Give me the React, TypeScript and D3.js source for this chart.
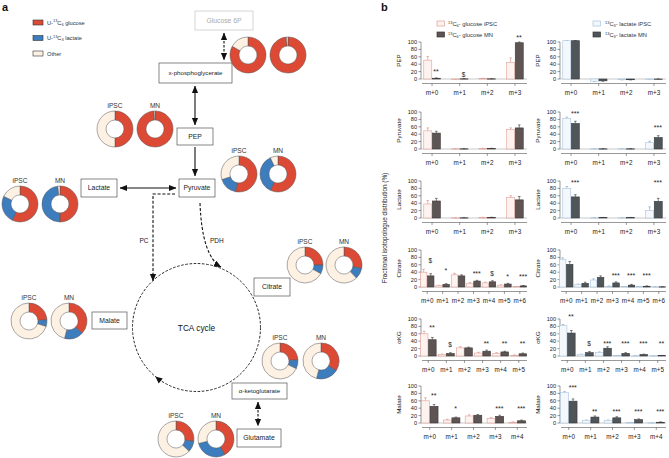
import React from 'react';
import * as d3 from 'd3';

const FONT = 'Liberation Sans, Arial, Helvetica, sans-serif';

// ---------------- Panel a data ----------------
const tracerColors = ['#dc4a36', '#3d7dbd', '#fdf1e4'];
const tracerNames = ['glucose', 'lactate', 'Other'];
const nodeNames = ['x-phosphoglycerate', 'PEP', 'Pyruvate', 'Lactate', 'Citrate', 'Malate', 'α-ketoglutarate', 'Glutamate'];
// fractions [glucose, lactate, other]
const donutIPSC = [
  [0.83, 0, 0.17],
  [0.5, 0, 0.5],
  [0.53, 0.17, 0.30],
  [0.57, 0.25, 0.18],
  [0.25, 0.08, 0.67],
  [0.24, 0.06, 0.70],
  [0.24, 0.08, 0.68],
  [0.27, 0.10, 0.63],
];
const donutMN = [
  [0.985, 0, 0.015],
  [0.99, 0, 0.01],
  [0.57, 0.36, 0.07],
  [0.5, 0.48, 0.02],
  [0.28, 0.10, 0.62],
  [0.37, 0.17, 0.46],
  [0.34, 0.20, 0.46],
  [0.42, 0.29, 0.29],
];

// ---------------- Panel b data ----------------
const metabolites = ['PEP', 'Pyruvate', 'Lactate', 'Citrate', 'αKG', 'Malate'];
const iso4 = ['m+0', 'm+1', 'm+2', 'm+3'];
const iso5 = ['m+0', 'm+1', 'm+2', 'm+3', 'm+4'];
const iso6 = ['m+0', 'm+1', 'm+2', 'm+3', 'm+4', 'm+5'];
const iso7 = ['m+0', 'm+1', 'm+2', 'm+3', 'm+4', 'm+5', 'm+6'];
const isotopologues = [iso4, iso4, iso4, iso7, iso6, iso5];

const glcIPSC = [[51, -0.5, 1, 45], [49, 0.5, 1.5, 53], [38, 0.5, 1.5, 55], [40, 4, 33, 10, 11, 5, 1], [60, 4, 22, 8, 7, 2], [60, 8, 19, 12, 2]];
const glcIPSCsd = [[10, 1, 1, 12], [8, 0.5, 0.5, 4], [9, 0.5, 0.5, 5], [8, 1, 4, 2, 2, 1, 0.5], [7, 1, 3, 2, 2, 1], [8, 2, 3, 3, 1]];
const glcMN = [[2, 0.5, 0.5, 98], [43, 0.5, 1.5, 57], [46, 0.5, 1.5, 49], [30, 7, 30, 16, 14, 8, 3], [44, 7, 22, 13, 11, 6], [45, 14, 21, 18, 6]];
const glcMNsd = [[1, 0.5, 0.5, 2], [5, 0.5, 0.5, 8], [7, 0.5, 0.5, 9], [6, 2, 3, 2, 3, 2, 1], [6, 2, 2, 3, 2, 2], [5, 2, 2, 3, 2]];
const glcSig = [['**', '$', '', '**'], ['', '', '', ''], ['', '', '', ''], ['$', '*', '', '***', '$', '*', '***'], ['**', '$', '', '**', '**', '**'], ['**', '*', '', '***', '***']];
const glcSigAt = [[22, 14, 0, 114], [0, 0, 0, 0], [0, 0, 0, 0], [72, 45, 0, 38, 38, 30, 30], [78, 32, 0, 34, 34, 34], [76, 40, 0, 40, 40]];

const lacIPSC = [[103.5, -6, -2, -1], [83, 0.5, 0.5, 17], [80, 0.5, 0.5, 20], [75, 7, 19, 2, 1, 1, 0.5], [82, 4, 9, 1, 0.5, 0.5], [82, 7, 7, 1, 0.5]];
const lacIPSCsd = [[0.5, 1, 0.5, 0.5], [3, 0.5, 0.5, 4], [5, 0.5, 0.5, 10], [4, 1, 3, 1, 0.5, 0.5, 0.3], [3, 1, 2, 0.5, 0.3, 0.3], [3, 1, 1, 0.5, 0.3]];
const lacMN = [[103.5, -5, -2, 0], [69, 0.5, 0.5, 31], [57, 1, 1, 45], [61, 10, 26, 11, 5, 2, 0.5], [62, 9, 21, 7, 4, 1], [59, 16, 14, 9, 2]];
const lacMNsd = [[0.5, 1, 0.5, 0.3], [6, 0.5, 0.5, 5], [6, 0.5, 0.5, 8], [8, 3, 4, 3, 2, 1, 0.3], [7, 3, 4, 2, 1, 0.5], [6, 3, 3, 2, 1]];
const lacSig = [['', '', '', ''], ['***', '', '', '***'], ['***', '', '', '***'], ['', '', '', '***', '***', '***', ''], ['**', '$', '***', '***', '***', '**'], ['***', '**', '***', '***', '***']];
const lacSigAt = [[0, 0, 0, 0], [98, 0, 0, 60], [97, 0, 0, 97], [0, 0, 0, 33, 33, 33, 0], [108, 36, 35, 35, 35, 35], [97, 32, 32, 32, 32]];

const yTicks = [0, 20, 40, 60, 80, 100];

// ---------------- helpers ----------------
function Donut({ cx, cy, fr, label }: { cx: number; cy: number; fr: number[]; label?: string }) {
  const pie = d3.pie<number>().sort(null).value((d) => d)(fr);
  const arc = d3.arc<d3.PieArcDatum<number>>().innerRadius(9).outerRadius(18);
  return (
    <g transform={`translate(${cx},${cy})`}>
      {pie.map((p, i) =>
        p.value > 0 ? <path key={i} d={arc(p) || ''} fill={tracerColors[i]} stroke="#555" strokeWidth={0.5} /> : null
      )}
      {label ? (
        <text x={0} y={-21} textAnchor="middle" fontSize={6.6} fill="#333">
          {label}
        </text>
      ) : null}
    </g>
  );
}

function Box({ x, y, w, h, label, gray }: { x: number; y: number; w: number; h: number; label: string; gray?: boolean }) {
  return (
    <g>
      <rect x={x} y={y} width={w} height={h} fill="#fff" stroke={gray ? '#c4c4c4' : '#555'} strokeWidth={0.7} />
      <text x={x + w / 2} y={y + h / 2 + 2.4} textAnchor="middle" fontSize={label.length > 12 ? 6.2 : 6.8} fill={gray ? '#aaa' : '#222'}>
        {label}
      </text>
    </g>
  );
}

function Head({ x, y, ang }: { x: number; y: number; ang: number }) {
  return <path d="M0,0 L-7,-3.2 L-7,3.2 Z" fill="#111" transform={`translate(${x},${y}) rotate(${ang})`} />;
}

type Style = { aFill: string; aStroke: string; aErr: string; bFill: string; bStroke: string; bErr: string };

function BarChart(props: {
  x0: number; top: number; cats: string[]; a: number[]; asd: number[]; b: number[]; bsd: number[];
  sig: string[]; sigAt: number[]; name: string; st: Style;
}) {
  const { x0, top, cats, a, asd, b, bsd, sig, sigAt, name, st } = props;
  const x = d3.scalePoint<string>().domain(cats).range([x0, x0 + 105]).padding(0.4);
  const y = d3.scaleLinear().domain([0, 100]).range([top + 37, top]);
  const bw = Math.min(8, x.step() * 0.42);
  const y0 = y(0);
  const axisY = top + 41.5;
  const bar = (cx: number, v: number, sd: number, fill: string, stroke: string, err: string, k: string) => {
    const yv = y(v);
    const ye = y(v + (v >= 0 ? sd : -sd));
    return (
      <g key={k}>
        <line x1={cx + bw / 2} x2={cx + bw / 2} y1={yv} y2={ye} stroke={err} strokeWidth={0.6} />
        <line x1={cx + bw / 2 - 1.3} x2={cx + bw / 2 + 1.3} y1={ye} y2={ye} stroke={err} strokeWidth={0.6} />
        <rect x={cx} y={Math.min(yv, y0)} width={bw} height={Math.max(0.3, Math.abs(y0 - yv))} fill={fill} stroke={stroke} strokeWidth={0.6} />
      </g>
    );
  };
  return (
    <g fill="#222">
      {/* y axis */}
      <line x1={x0} x2={x0} y1={y(0)} y2={y(100)} stroke="#333" strokeWidth={0.5} />
      {yTicks.map((t) => (
        <g key={t}>
          <line x1={x0 - 2.5} x2={x0} y1={y(t)} y2={y(t)} stroke="#333" strokeWidth={0.5} />
          <text x={x0 - 4} y={y(t) + 2} textAnchor="end" fontSize={5.6}>
            {t}
          </text>
        </g>
      ))}
      <text transform={`translate(${x0 - 20.5},${y(50)}) rotate(-90)`} textAnchor="middle" fontSize={6.2}>
        {name}
      </text>
      {/* zero line */}
      <line x1={x0} x2={x0 + 106} y1={y0} y2={y0} stroke="#777" strokeWidth={0.4} />
      {cats.map((c, i) => {
        const cx = x(c) as number;
        return (
          <g key={c}>
            {bar(cx - bw - 0.3, a[i], asd[i], st.aFill, st.aStroke, st.aErr, 'a')}
            {bar(cx + 0.3, b[i], bsd[i], st.bFill, st.bStroke, st.bErr, 'b')}
            {sig[i] ? (
              <text x={cx + bw / 2} y={y(sigAt[i]) + 3} textAnchor="middle" fontSize={sig[i] === '$' ? 6.5 : 7}>
                {sig[i]}
              </text>
            ) : null}
          </g>
        );
      })}
      {/* x axis */}
      <line x1={x0 + 1} x2={x0 + 106} y1={axisY} y2={axisY} stroke="#333" strokeWidth={0.5} />
      {cats.map((c) => (
        <g key={'t' + c}>
          <line x1={x(c) as number} x2={x(c) as number} y1={axisY} y2={axisY + 2.5} stroke="#333" strokeWidth={0.5} />
          <text x={x(c) as number} y={top + 52.5} textAnchor="middle" fontSize={6.3}>
            {c}
          </text>
        </g>
      ))}
    </g>
  );
}

function Iso({ mass, el, sub, rest, x, y, fs }: { mass: string; el: string; sub: string; rest: string; x: number; y: number; fs: number }) {
  return (
    <text x={x} y={y} fontSize={fs} fill="#333">
      {mass.startsWith('U') ? 'U-' : ''}
      <tspan dy={-2.2} fontSize={fs * 0.68}>{'13'}</tspan>
      <tspan dy={2.2}>{el}</tspan>
      <tspan dy={1.2} fontSize={fs * 0.68}>{sub}</tspan>
      <tspan dy={-1.2}>{rest}</tspan>
    </text>
  );
}

// donut layout positions for panel a
const donutPos = [
  [248, 55, 288, 55, 0],
  [115, 129, 155, 129, 1],
  [239, 174, 278, 174, 1],
  [20, 204, 60, 204, 1],
  [305, 265, 344, 265, 1],
  [29, 321, 69, 321, 1],
  [280, 361, 321, 361, 1],
  [176, 439, 216, 439, 1],
];

export default function App() {
  const glcStyle: Style = { aFill: '#fdf2f0', aStroke: '#e0a198', aErr: '#d9877e', bFill: '#5d5453', bStroke: '#3d3737', bErr: '#333' };
  const lacStyle: Style = { aFill: '#f4f8fc', aStroke: '#a8c4dd', aErr: '#7f9fbf', bFill: '#505559', bStroke: '#35393c', bErr: '#333' };
  const colX = [421, 560];
  const rowTop = [42, 112, 181, 250, 319, 386];
  const cx0 = 196.5, cy0 = 327.5, R = 64;
  const headAt = (deg: number) => {
    const t = (deg * Math.PI) / 180;
    return { x: cx0 + R * Math.cos(t), y: cy0 + R * Math.sin(t), ang: deg + 90 };
  };
  const h3 = headAt(130);
  return (
    <svg width={669} height={458} style={{ position: 'absolute', left: 0, top: 0, background: '#fff' }} fontFamily={FONT}>
      <defs>
        <marker id="ah" viewBox="0 0 10 10" refX="9.5" refY="5" markerWidth="7.5" markerHeight="7.5" markerUnits="userSpaceOnUse" orient="auto-start-reverse">
          <path d="M0,0.8 L10,5 L0,9.2 z" fill="#111" />
        </marker>
      </defs>
      <rect x={0} y={0} width={669} height={458} fill="#fff" />

      {/* ---------- Panel a ---------- */}
      <text x={2} y={11} fontSize={11} fontWeight="bold" fill="#111">a</text>
      {tracerColors.map((c, i) => (
        <rect key={i} x={33} y={20 + i * 15.5} width={10} height={5} fill={c} stroke="#333" strokeWidth={0.6} />
      ))}
      <Iso mass="U" el="C" sub="6" rest={' ' + tracerNames[0]} x={47} y={24.5} fs={5.7} />
      <Iso mass="U" el="C" sub="3" rest={' ' + tracerNames[1]} x={47} y={40} fs={5.7} />
      <text x={47} y={55.5} fontSize={5.7} fill="#333">{tracerNames[2]}</text>

      {/* pathway */}
      <Box x={195} y={11} w={58} h={19} label="Glucose 6P" gray />
      <Box x={159} y={63} w={73} h={20} label={nodeNames[0]} />
      <Box x={177} y={128} w={36} h={17} label={nodeNames[1]} />
      <Box x={179} y={179} w={36} h={18} label={nodeNames[2]} />
      <Box x={81} y={179} w={36} h={18} label={nodeNames[3]} />
      <Box x={254} y={278} w={36} h={18} label={nodeNames[4]} />
      <Box x={92} y={312} w={35} h={17} label={nodeNames[5]} />
      <Box x={232} y={383} w={55} h={16} label={nodeNames[6]} />
      <Box x={237} y={429} w={44} h={18} label={nodeNames[7]} />

      <g stroke="#111" strokeWidth={1.1} fill="none">
        <line x1={224} y1={33} x2={224} y2={60} strokeDasharray="2.5,1.5" markerStart="url(#ah)" markerEnd="url(#ah)" />
        <line x1={195} y1={86} x2={195} y2={125} markerStart="url(#ah)" markerEnd="url(#ah)" />
        <line x1={195} y1={147} x2={195} y2={176} markerEnd="url(#ah)" />
        <line x1={120} y1={188} x2={176} y2={188} markerStart="url(#ah)" markerEnd="url(#ah)" />
        <path d="M175,194 H153 V281" strokeDasharray="3,1.8" markerEnd="url(#ah)" />
        <path d="M200,203 Q202,256 221,267" strokeDasharray="3,1.8" markerEnd="url(#ah)" />
        <line x1={258} y1={402} x2={258} y2={426} strokeDasharray="2.5,1.5" markerStart="url(#ah)" markerEnd="url(#ah)" />
        <circle cx={cx0} cy={cy0} r={R} strokeDasharray="2.6,1.6" strokeWidth={0.9} />
      </g>
      <Head x={h3.x} y={h3.y} ang={h3.ang} />
      <text x={148.5} y={243} textAnchor="end" fontSize={6.5} fill="#222">PC</text>
      <text x={210} y={243} fontSize={6.5} fill="#222">PDH</text>
      <text x={cx0} y={cy0 + 3} textAnchor="middle" fontSize={8.3} fill="#111">TCA cycle</text>

      {donutPos.map((p, i) => (
        <g key={i}>
          <Donut cx={p[0]} cy={p[1]} fr={donutIPSC[i]} label={p[4] ? 'iPSC' : undefined} />
          <Donut cx={p[2]} cy={p[3]} fr={donutMN[i]} label={p[4] ? 'MN' : undefined} />
        </g>
      ))}

      {/* ---------- Panel b ---------- */}
      <text x={381} y={11} fontSize={11} fontWeight="bold" fill="#111">b</text>
      <rect x={437} y={21} width={7.5} height={5} fill={glcStyle.aFill} stroke={glcStyle.aStroke} strokeWidth={0.7} />
      <rect x={437} y={32} width={7.5} height={5} fill={glcStyle.bFill} stroke={glcStyle.bStroke} strokeWidth={0.7} />
      <Iso mass="" el="C" sub="6" rest="- glucose iPSC" x={448} y={25.8} fs={5.8} />
      <Iso mass="" el="C" sub="6" rest="- glucose MN" x={448} y={36.8} fs={5.8} />
      <rect x={593} y={21} width={7.5} height={5} fill={lacStyle.aFill} stroke={lacStyle.aStroke} strokeWidth={0.7} />
      <rect x={593} y={32} width={7.5} height={5} fill={lacStyle.bFill} stroke={lacStyle.bStroke} strokeWidth={0.7} />
      <Iso mass="" el="C" sub="3" rest="- lactate iPSC" x={605} y={25.8} fs={5.8} />
      <Iso mass="" el="C" sub="3" rest="- lactate MN" x={605} y={36.8} fs={5.8} />

      <text transform="translate(387,228) rotate(-90)" textAnchor="middle" fontSize={6.4} fill="#222">
        Fractional isotopologue distribution (%)
      </text>

      {metabolites.map((m, r) => (
        <g key={m}>
          <BarChart x0={colX[0]} top={rowTop[r]} cats={isotopologues[r]} a={glcIPSC[r]} asd={glcIPSCsd[r]} b={glcMN[r]} bsd={glcMNsd[r]}
            sig={glcSig[r]} sigAt={glcSigAt[r]} name={m} st={glcStyle} />
          <BarChart x0={colX[1]} top={rowTop[r]} cats={isotopologues[r]} a={lacIPSC[r]} asd={lacIPSCsd[r]} b={lacMN[r]} bsd={lacMNsd[r]}
            sig={lacSig[r]} sigAt={lacSigAt[r]} name={m} st={lacStyle} />
        </g>
      ))}
    </svg>
  );
}
